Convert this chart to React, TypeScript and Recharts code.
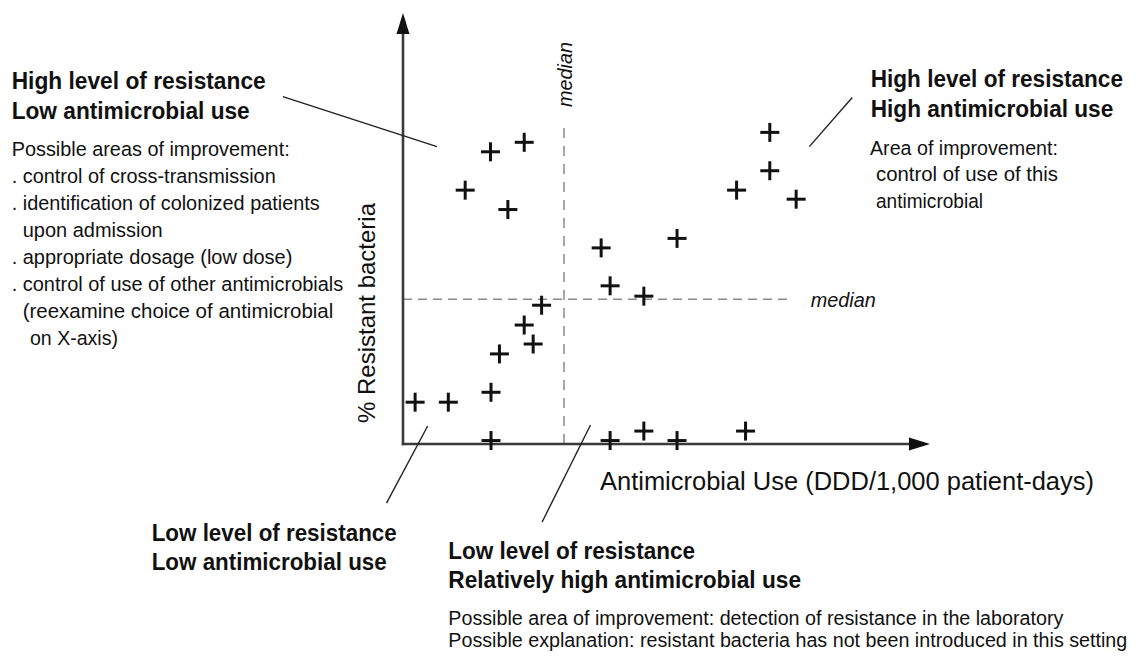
import React from 'react';
import { ScatterChart, Scatter, XAxis, YAxis, ReferenceLine } from 'recharts';

// ---- Data (arbitrary units on a 0-100 scale, axes have no ticks) ----
const useValues = [2.3, 8.6, 16.7, 16.7, 11.8, 16.6, 23.0, 19.9, 18.3, 23.0, 24.7, 26.3, 37.6, 39.3, 45.7, 52.0, 63.3, 69.6, 69.6, 74.6, 39.3, 45.7, 52.0, 65.0];
const resistanceValues = [9.7, 9.7, 12.0, 0.8, 58.9, 67.8, 70.0, 54.4, 20.9, 27.6, 23.2, 32.2, 45.5, 36.7, 34.3, 47.7, 58.9, 72.3, 63.4, 56.8, 0.8, 3.0, 0.8, 3.0];
const medianUse = 30.55;
const medianResistance = 33.6;
const axisMax = 100;
const medianUseLineTop = 73.5;
const medianResLineEnd = 73.4;

// leader lines (data coords) from label to quadrant
const leaderTopLeft = [{ x: -22.8, y: 80.6 }, { x: 6.45, y: 69.0 }];
const leaderTopRight = [{ x: 77.1, y: 69.0 }, { x: 85.25, y: 80.4 }];
const leaderBottomLeft = [{ x: -3.13, y: -13.7 }, { x: 4.68, y: 4.18 }];
const leaderBottomMid = [{ x: 35.58, y: 4.41 }, { x: 26.4, y: -18.1 }];

const xAxisLabel = 'Antimicrobial Use (DDD/1,000 patient-days)';
const yAxisLabel = '% Resistant bacteria';
const medianLabel = 'median';

const topLeftTitle = ['High level of resistance', 'Low antimicrobial use'];
const topLeftBody = [
  'Possible areas of improvement:',
  '. control of cross-transmission',
  '. identification of colonized patients',
  'upon admission',
  '. appropriate dosage (low dose)',
  '. control of use of other antimicrobials',
  '(reexamine choice of antimicrobial',
  'on X-axis)',
];
const topRightTitle = ['High level of resistance', 'High antimicrobial use'];
const topRightBody = ['Area of improvement:', 'control of use of  this', 'antimicrobial'];
const bottomLeftTitle = ['Low level of resistance', 'Low antimicrobial use'];
const bottomMidTitle = ['Low level of resistance', 'Relatively high antimicrobial use'];
const bottomMidBody = [
  'Possible area of improvement: detection of resistance in the laboratory',
  'Possible explanation: resistant bacteria has not been introduced in this setting',
];

const points = useValues.map((u, i) => ({ use: u, res: resistanceValues[i] }));

const FONT = '"Liberation Sans", Arial, Helvetica, sans-serif';

const PlusShape = (props: any) => {
  const { cx, cy } = props;
  const h = 9.5;
  return (
    <g>
      <line x1={cx - h} y1={cy} x2={cx + h} y2={cy} stroke="#111" strokeWidth={3} />
      <line x1={cx} y1={cy - h} x2={cx} y2={cy + h} stroke="#111" strokeWidth={3} />
    </g>
  );
};

const ArrowLine = (props: any) => {
  const { x1, y1, x2, y2 } = props;
  const dx = x2 - x1;
  const dy = y2 - y1;
  const len = Math.hypot(dx, dy) || 1;
  const ux = dx / len;
  const uy = dy / len;
  const L = 21;
  const W = 6.5;
  const bx = x2 - ux * L;
  const by = y2 - uy * L;
  const px = -uy;
  const py = ux;
  return (
    <g>
      <line x1={x1 - ux * 1.2} y1={y1 - uy * 1.2} x2={bx + ux * 2} y2={by + uy * 2} stroke="#3a3a3a" strokeWidth={2.6} />
      <polygon points={`${x2},${y2} ${bx + px * W},${by + py * W} ${bx - px * W},${by - py * W}`} fill="#111" />
    </g>
  );
};

type Line = { t: string; x: number; y: number; w: number };

const Lines = ({ items, size, weight, style }: { items: Line[]; size: number; weight?: string; style?: string }) => (
  <>
    {items.map((l, i) => (
      <text
        key={i}
        x={l.x}
        y={l.y}
        fontSize={size}
        fontWeight={weight || 'normal'}
        fontStyle={style || 'normal'}
        fontFamily={FONT}
        fill="#111"
        textLength={l.w}
        lengthAdjust="spacingAndGlyphs"
      >
        {l.t}
      </text>
    ))}
  </>
);

export default function App() {
  const tlTitle: Line[] = [
    { t: topLeftTitle[0], x: 11.7, y: 89, w: 254 },
    { t: topLeftTitle[1], x: 11.7, y: 119, w: 238 },
  ];
  const tlX = [11.7, 11.7, 11.7, 22.7, 11.7, 11.7, 22.7, 30];
  const tlW = [278, 264, 308, 140, 280.6, 331.6, 310.6, 88];
  const tlBody: Line[] = topLeftBody.map((t, i) => ({ t, x: tlX[i], y: 156 + 27 * i, w: tlW[i] }));
  const trTitle: Line[] = [
    { t: topRightTitle[0], x: 870.7, y: 87, w: 252.3 },
    { t: topRightTitle[1], x: 870.7, y: 117, w: 242.6 },
  ];
  const trX = [870, 876, 876];
  const trY = [155, 181, 208];
  const trW = [188, 182, 107];
  const trBody: Line[] = topRightBody.map((t, i) => ({ t, x: trX[i], y: trY[i], w: trW[i] }));
  const blTitle: Line[] = [
    { t: bottomLeftTitle[0], x: 151.7, y: 541, w: 245 },
    { t: bottomLeftTitle[1], x: 151.7, y: 570, w: 235 },
  ];
  const bmTitle: Line[] = [
    { t: bottomMidTitle[0], x: 448.3, y: 559, w: 246.7 },
    { t: bottomMidTitle[1], x: 448.3, y: 587.5, w: 352.7 },
  ];
  const bmBody: Line[] = [
    { t: bottomMidBody[0], x: 448.3, y: 625, w: 615 },
    { t: bottomMidBody[1], x: 448.3, y: 646.5, w: 679 },
  ];

  return (
    <div style={{ position: 'absolute', left: 0, top: 0, width: 1136, height: 657, background: '#fff', overflow: 'hidden' }}>
      <ScatterChart width={1136} height={657} margin={{ top: 13, right: 206, bottom: 213, left: 403 }}>
        <XAxis type="number" dataKey="use" domain={[0, axisMax]} hide />
        <YAxis type="number" dataKey="res" domain={[0, axisMax]} hide />
        <ReferenceLine
          segment={[{ x: medianUse, y: 0 }, { x: medianUse, y: medianUseLineTop }]}
          stroke="#8a8a8a"
          strokeWidth={1.5}
          strokeDasharray="10 8"
          ifOverflow="visible"
        />
        <ReferenceLine
          segment={[{ x: 0, y: medianResistance }, { x: medianResLineEnd, y: medianResistance }]}
          stroke="#8a8a8a"
          strokeWidth={1.5}
          strokeDasharray="9 6"
          ifOverflow="visible"
        />
        <ReferenceLine segment={[{ x: 0, y: 0 }, { x: 0, y: axisMax }]} shape={ArrowLine} ifOverflow="visible" />
        <ReferenceLine segment={[{ x: 0, y: 0 }, { x: axisMax, y: 0 }]} shape={ArrowLine} ifOverflow="visible" />
        <ReferenceLine segment={leaderTopLeft} stroke="#222" strokeWidth={1.4} ifOverflow="visible" />
        <ReferenceLine segment={leaderTopRight} stroke="#222" strokeWidth={1.4} ifOverflow="visible" />
        <ReferenceLine segment={leaderBottomLeft} stroke="#222" strokeWidth={1.4} ifOverflow="visible" />
        <ReferenceLine segment={leaderBottomMid} stroke="#222" strokeWidth={1.4} ifOverflow="visible" />
        <Scatter data={points} shape={PlusShape} isAnimationActive={false} />
      </ScatterChart>
      <svg
        width={1136}
        height={657}
        style={{ position: 'absolute', left: 0, top: 0, pointerEvents: 'none' }}
      >
        <Lines items={tlTitle} size={23.5} weight="bold" />
        <Lines items={tlBody} size={20.5} />
        <Lines items={trTitle} size={23.5} weight="bold" />
        <Lines items={trBody} size={20.5} />
        <Lines items={blTitle} size={23.5} weight="bold" />
        <Lines items={bmTitle} size={23.5} weight="bold" />
        <Lines items={bmBody} size={19.4} />
        <text x={600} y={490} fontSize={25.5} fontFamily={FONT} fill="#111" textLength={494} lengthAdjust="spacingAndGlyphs">
          {xAxisLabel}
        </text>
        <text
          transform="translate(375,313) rotate(-90)"
          textAnchor="middle"
          fontSize={24.5}
          fontFamily={FONT}
          fill="#111"
          textLength={220}
          lengthAdjust="spacingAndGlyphs"
        >
          {yAxisLabel}
        </text>
        <text
          transform="translate(571.7,74.5) rotate(-90)"
          textAnchor="middle"
          fontSize={20}
          fontStyle="italic"
          fontFamily={FONT}
          fill="#111"
          textLength={65}
          lengthAdjust="spacingAndGlyphs"
        >
          {medianLabel}
        </text>
        <text x={810.7} y={307} fontSize={20} fontStyle="italic" fontFamily={FONT} fill="#111" textLength={65} lengthAdjust="spacingAndGlyphs">
          {medianLabel}
        </text>
      </svg>
    </div>
  );
}
